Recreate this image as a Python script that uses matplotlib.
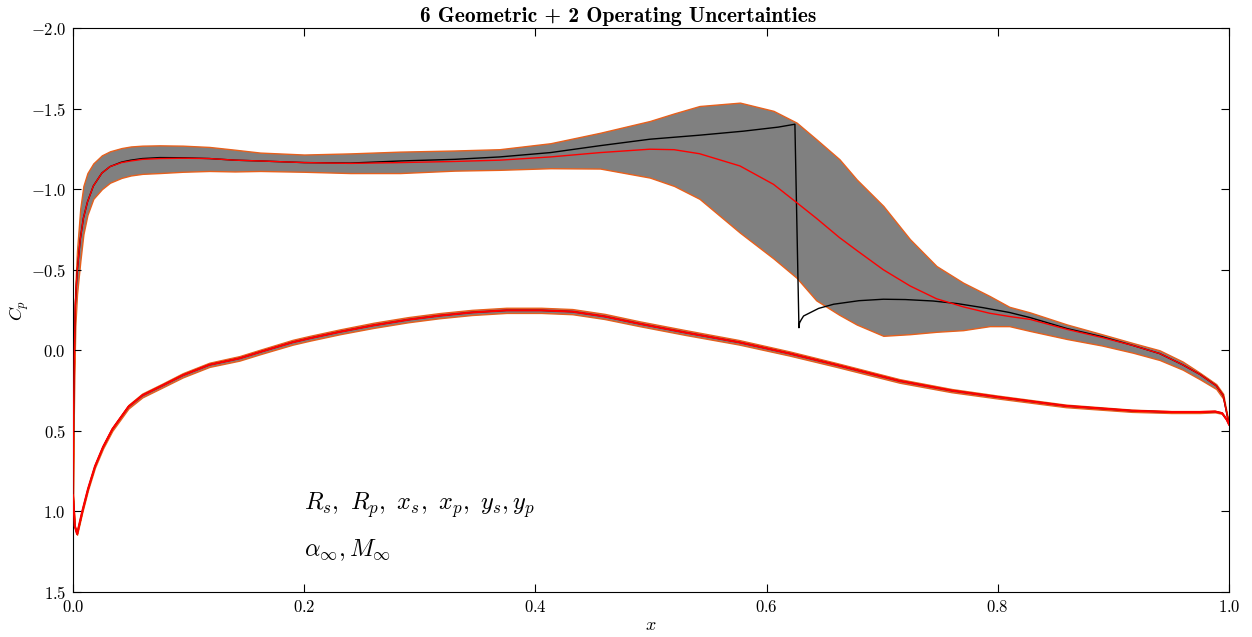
import matplotlib
matplotlib.use("Agg")
import matplotlib.pyplot as plt
import numpy as np

plt.rcParams['font.family'] = 'serif'
plt.rcParams['font.serif'] = ['cmr10']
plt.rcParams['mathtext.fontset'] = 'cm'
plt.rcParams['axes.formatter.use_mathtext'] = True
plt.rcParams['axes.unicode_minus'] = True

# suction side: band (min / max) and mean of the uncertain Cp
x_ss = [0.0, 0.0005, 0.0012, 0.002, 0.0035, 0.0063, 0.009, 0.0125, 0.0176, 0.025,
        0.032, 0.042, 0.05, 0.06, 0.075, 0.095, 0.118, 0.14, 0.162, 0.2,
        0.24, 0.283, 0.33, 0.369, 0.413, 0.456, 0.499, 0.52, 0.542, 0.577,
        0.606, 0.626, 0.643, 0.663, 0.678, 0.701, 0.724, 0.747, 0.77, 0.793,
        0.81, 0.828, 0.86, 0.89, 0.917, 0.94, 0.96, 0.975, 0.989, 0.995, 1.0]
cp_ss_mean = [0.9, 0.4, 0.0, -0.28, -0.48, -0.69, -0.82, -0.92, -1.02, -1.10,
              -1.14, -1.165, -1.175, -1.185, -1.19, -1.192, -1.19, -1.18, -1.175, -1.165,
              -1.16, -1.165, -1.172, -1.18, -1.20, -1.227, -1.248, -1.245, -1.22, -1.144,
              -1.03, -0.917, -0.82, -0.70, -0.62, -0.50, -0.40, -0.32, -0.27, -0.23,
              -0.21, -0.192, -0.13, -0.08, -0.03, 0.02, 0.09, 0.15, 0.22, 0.28, 0.46]
cp_ss_top = [0.9, 0.3, -0.15, -0.4, -0.62, -0.88, -1.02, -1.10, -1.16, -1.21,
             -1.235, -1.255, -1.265, -1.27, -1.272, -1.27, -1.262, -1.245, -1.227, -1.215,
             -1.222, -1.233, -1.24, -1.248, -1.285, -1.35, -1.423, -1.47, -1.516, -1.537,
             -1.486, -1.413, -1.31, -1.186, -1.06, -0.896, -0.69, -0.523, -0.42, -0.337,
             -0.27, -0.235, -0.16, -0.10, -0.045, 0.0, 0.07, 0.14, 0.21, 0.27, 0.46]
cp_ss_bot = [0.9, 0.5, 0.15, -0.15, -0.35, -0.55, -0.72, -0.84, -0.94, -1.0,
             -1.04, -1.07, -1.085, -1.095, -1.10, -1.108, -1.113, -1.11, -1.113, -1.108,
             -1.10, -1.10, -1.115, -1.12, -1.13, -1.128, -1.072, -1.02, -0.94, -0.73,
             -0.57, -0.45, -0.31, -0.22, -0.16, -0.09, -0.10, -0.115, -0.125, -0.15,
             -0.15, -0.12, -0.07, -0.03, 0.015, 0.06, 0.12, 0.18, 0.24, 0.30, 0.46]

# deterministic (baseline) suction side, with the shock
x_det = [0.0, 0.0005, 0.0012, 0.002, 0.0035, 0.0063, 0.009, 0.0125, 0.0176, 0.025,
         0.032, 0.042, 0.05, 0.06, 0.075, 0.095, 0.118, 0.14, 0.162, 0.2,
         0.24, 0.283, 0.33, 0.369, 0.413, 0.456, 0.499, 0.542, 0.58, 0.61,
         0.6245, 0.628, 0.6285, 0.630, 0.632, 0.645, 0.658, 0.68, 0.701, 0.72,
         0.744, 0.765, 0.787, 0.81, 0.828, 0.86, 0.89, 0.917, 0.94, 0.96,
         0.975, 0.989, 0.995, 1.0]
cp_det = [0.9, 0.4, 0.0, -0.28, -0.48, -0.69, -0.82, -0.92, -1.02, -1.10,
          -1.14, -1.168, -1.18, -1.19, -1.196, -1.195, -1.19, -1.18, -1.175, -1.165,
          -1.162, -1.175, -1.185, -1.20, -1.227, -1.27, -1.31, -1.335, -1.36, -1.385,
          -1.403, -0.14, -0.17, -0.19, -0.213, -0.26, -0.286, -0.308, -0.317, -0.315,
          -0.306, -0.29, -0.265, -0.235, -0.203, -0.135, -0.085, -0.03, 0.02, 0.09,
          0.15, 0.22, 0.28, 0.46]

# pressure side: mean and half spread of the band
x_ps = [0.0, 0.0015, 0.0035, 0.008, 0.013, 0.019, 0.026, 0.034, 0.048, 0.06,
        0.077, 0.095, 0.118, 0.144, 0.162, 0.19, 0.205, 0.231, 0.26, 0.29,
        0.317, 0.345, 0.375, 0.405, 0.432, 0.46, 0.49, 0.53, 0.576, 0.62,
        0.66, 0.715, 0.76, 0.80, 0.859, 0.916, 0.95, 0.975, 0.988, 0.994,
        0.998, 1.0]
cp_ps_mean = [0.9, 1.09, 1.14, 1.0, 0.86, 0.72, 0.60, 0.49, 0.35, 0.28,
              0.22, 0.155, 0.09, 0.05, 0.01, -0.05, -0.075, -0.115, -0.155, -0.19,
              -0.215, -0.235, -0.248, -0.248, -0.24, -0.21, -0.165, -0.11, -0.05, 0.02,
              0.09, 0.19, 0.25, 0.29, 0.345, 0.375, 0.383, 0.383, 0.38, 0.39,
              0.43, 0.46]
cp_ps_spread = [0.0, 0.004, 0.005, 0.006, 0.007, 0.008, 0.009, 0.01, 0.011, 0.012,
                0.012, 0.013, 0.013, 0.014, 0.014, 0.015, 0.015, 0.015, 0.016, 0.016,
                0.016, 0.016, 0.016, 0.016, 0.016, 0.016, 0.015, 0.015, 0.014, 0.013,
                0.012, 0.011, 0.01, 0.009, 0.008, 0.007, 0.006, 0.006, 0.005, 0.004,
                0.002, 0.0]

title = "6 Geometric + 2 Operating Uncertainties"
note_geo = r"$R_s,\ R_p,\ x_s,\ x_p,\ y_s, y_p$"
note_op = r"$\alpha_\infty, M_\infty$"

fig = plt.figure(figsize=(12.52, 6.37), dpi=100)
ax = fig.add_axes([0.0583, 0.0706, 0.9233, 0.8854])

band_face = '#808080'
band_edge = '#e8601c'

ps_mean = np.array(cp_ps_mean)
ps_spread = np.array(cp_ps_spread)
ax.fill_between(x_ss, cp_ss_top, cp_ss_bot, facecolor=band_face,
                edgecolor=band_edge, linewidth=1.0, zorder=1)
ax.fill_between(x_ps, ps_mean - ps_spread, ps_mean + ps_spread, facecolor=band_face,
                edgecolor=band_edge, linewidth=1.0, zorder=1)

ax.plot(x_det, cp_det, color='k', linewidth=1.0, zorder=2)
ax.plot(x_ps, cp_ps_mean, color='k', linewidth=1.0, zorder=2)
ax.plot(x_ss, cp_ss_mean, color='red', linewidth=1.0, zorder=3)
ax.plot(x_ps, cp_ps_mean, color='red', linewidth=1.5, zorder=3)

ax.set_xlim(0.0, 1.0)
ax.set_ylim(1.5, -2.0)
ax.set_xticks(np.arange(0.0, 1.01, 0.2))
ax.set_yticks(np.arange(-2.0, 1.51, 0.5))
ax.tick_params(direction='in', top=True, right=True, length=6, width=0.8,
               labelsize=12, pad=5)

ax.set_xlabel(r"$x$", fontsize=13, labelpad=2)
ax.set_ylabel(r"$C_p$", fontsize=13, labelpad=0)
ax.set_title(title, fontsize=15.5, fontname='cmb10', pad=4, x=0.4715)

ax.text(0.2, 0.99, note_geo, fontsize=17.5, va='baseline')
ax.text(0.2, 1.28, note_op, fontsize=17.5, va='baseline')

fig.savefig("out.png", dpi=100)
